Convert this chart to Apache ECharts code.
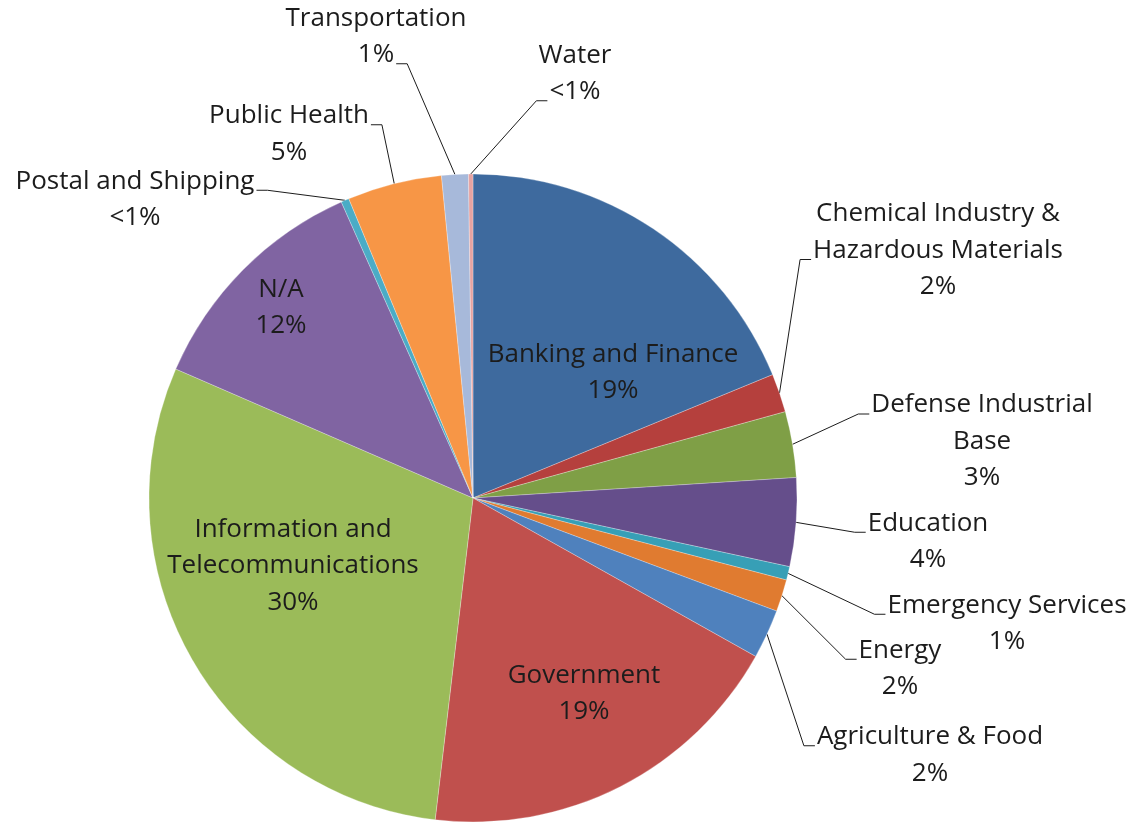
<!DOCTYPE html>
<html><head><meta charset="utf-8">
<script src="https://cdn.jsdelivr.net/npm/echarts@6/dist/echarts.min.js"></script>
<style>html,body{margin:0;padding:0;background:#fff}#chart{width:1132px;height:823px}</style>
</head><body><div id="chart"></div>
<script>
// ---- data (clockwise from 12 o'clock) ----
const categories = [
  'Banking and Finance',
  'Chemical Industry &\nHazardous Materials',
  'Defense Industrial\nBase',
  'Education',
  'Emergency Services',
  'Energy',
  'Agriculture & Food',
  'Government',
  'Information and\nTelecommunications',
  'N/A',
  'Postal and Shipping',
  'Public Health',
  'Transportation',
  'Water'
];
const shares = [18.75, 1.92, 3.28, 4.4, 0.67, 1.6, 2.45, 18.7, 29.6, 11.8, 0.4, 4.7, 1.33, 0.22];

// ---- styles / layout ----
const colors = ['#3E6A9E', '#B5403D', '#7F9F46', '#654E8B', '#379FB6', '#E07B30', '#4F81BD',
                '#C0504D', '#9BBB59', '#8064A2', '#4BACC6', '#F79646', '#A7B9DA', '#E6A3A2'];
const insideLabel = [true, false, false, false, false, false, false, true, true, true, false, false, false, false];
const labelCenters = [[613, 372.5], [938, 250.5], [982, 441.5], [928, 541.5], [1007, 623.5], [900, 668.5], [930, 755],
                      [584, 693.5], [293, 566], [281, 307.5], [135, 199.5], [289, 134], [376, 36.5], [575, 73.5]];
const FONT_SIZE = 26, LINE_H = 36.5, FONT_FAMILY = '"Open Sans", sans-serif';
const CX = 473, CY = 498, R = 324;

const total = shares.reduce((a, b) => a + b, 0);
function pctText(v) {
  const p = Math.round(v / total * 100);
  return p < 1 ? '<1%' : p + '%';
}
function labelText(i) { return categories[i] + '\n' + pctText(shares[i]); }

const ctx = document.createElement('canvas').getContext('2d');
ctx.font = FONT_SIZE + 'px ' + FONT_FAMILY;
function measure(s) { return ctx.measureText(s).width; }

function startPoint(i) {
  let acc = 0;
  for (let k = 0; k < i; k++) acc += shares[k];
  const mid = (acc + shares[i] / 2) / total * Math.PI * 2;
  return [CX + R * Math.sin(mid), CY - R * Math.cos(mid)];
}

const data = categories.map((name, i) => {
  const item = { name: name, value: shares[i], itemStyle: { color: colors[i] } };
  if (insideLabel[i]) {
    item.label = { position: 'inside' };
    item.labelLine = { show: false };
  }
  return item;
});

const chart = echarts.init(document.getElementById('chart'), null, { renderer: 'canvas' });
chart.setOption({
  animation: false,
  backgroundColor: '#fff',
  series: [{
    type: 'pie',
    center: [CX, CY],
    radius: R,
    startAngle: 90,
    clockwise: true,
    avoidLabelOverlap: false,
    silent: true,
    data: data,
    itemStyle: { borderColor: 'rgba(255,255,255,0.45)', borderWidth: 0.6 },
    label: {
      show: true,
      position: 'outside',
      formatter: p => labelText(p.dataIndex),
      color: '#1c1c1c',
      fontFamily: FONT_FAMILY,
      fontSize: FONT_SIZE,
      lineHeight: LINE_H,
      align: 'center',
      overflow: 'none',
      alignTo: 'none'
    },
    labelLine: { show: true, length: 10, length2: 10, smooth: false,
                 lineStyle: { color: '#1c1c1c', width: 1 } },
    labelLayout: function (params) {
      const i = params.dataIndex;
      const c = labelCenters[i];
      const res = { x: c[0], y: c[1], align: 'center', verticalAlign: 'middle' };
      if (!insideLabel[i]) {
        const pts = params.labelLinePoints;
        const start = (pts && pts[0]) ? pts[0] : startPoint(i);
        const lines = labelText(i).split('\n');
        const n = lines.length;
        const right = c[0] > start[0];
        let best = null;
        lines.forEach((ln, k) => {
          const w = measure(ln);
          const ly = c[1] - (n - 1) * LINE_H / 2 + k * LINE_H + 9;
          const lx = right ? c[0] - w / 2 - 2 : c[0] + w / 2 + 2;
          const d = Math.hypot(lx - start[0], ly - start[1]);
          if (!best || d < best.d) best = { d: d, lx: lx, ly: ly };
        });
        const bend = right ? best.lx - 11 : best.lx + 11;
        res.labelLinePoints = [start, [bend, best.ly], [best.lx, best.ly]];
      }
      return res;
    }
  }]
});
</script>
</body></html>
